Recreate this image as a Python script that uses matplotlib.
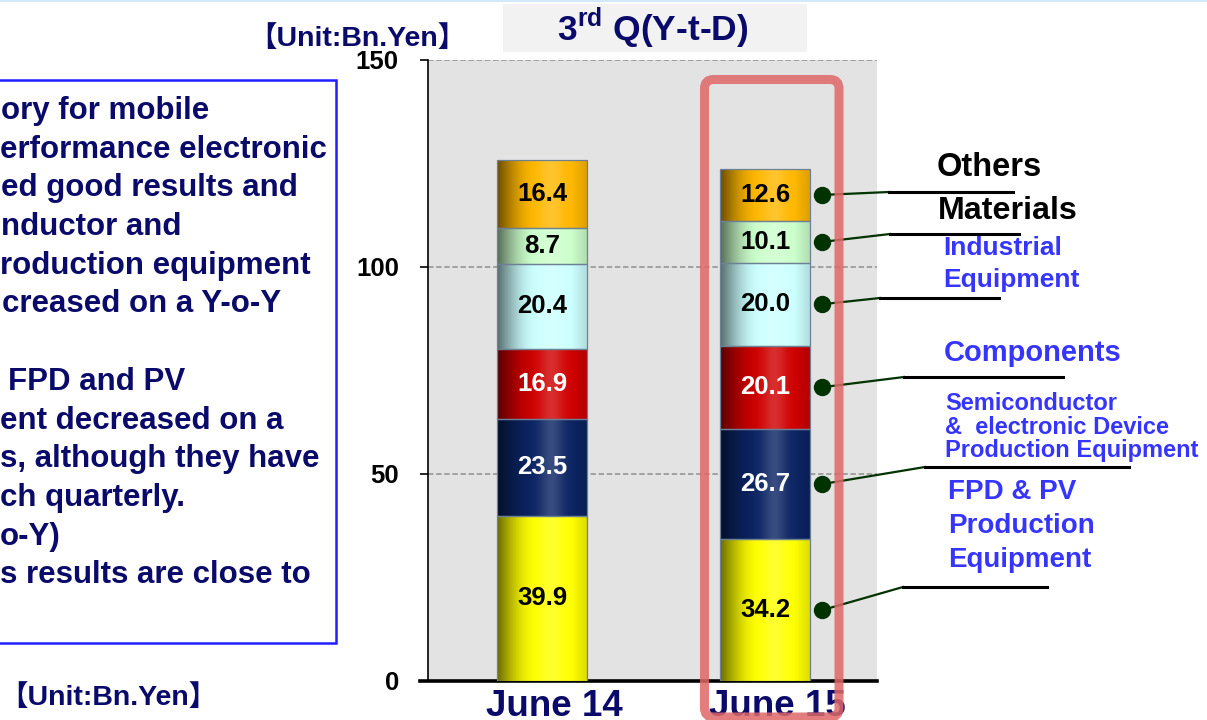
import numpy as np
import matplotlib
matplotlib.use('Agg')
import matplotlib.pyplot as plt
from matplotlib.patches import Rectangle, FancyBboxPatch
from matplotlib.lines import Line2D
from matplotlib.transforms import IdentityTransform, ScaledTranslation

plt.rcParams['font.family'] = ['Liberation Sans', 'Noto Sans CJK JP', 'DejaVu Sans']
plt.rcParams['font.weight'] = 'bold'
plt.rcParams['mathtext.fontset'] = 'custom'
plt.rcParams['mathtext.rm'] = 'Liberation Sans:bold'
plt.rcParams['mathtext.bf'] = 'Liberation Sans:bold'

# ---------------- data ----------------
categories = ['June 14', 'June 15']
fpd_pv = [39.9, 34.2]
semiconductor = [23.5, 26.7]
components = [16.9, 20.1]
industrial = [20.4, 20.0]
materials = [8.7, 10.1]
others = [16.4, 12.6]
series = [fpd_pv, semiconductor, components, industrial, materials, others]
series_colors = ['#FFFF00', '#0B2463', '#CF0000', '#CCFFFF', '#CCFFCC', '#FFB800']
value_colors = ['black', 'white', 'white', 'black', 'black', 'black']
yticks = [0, 50, 100, 150]
title_text = '3$^{\\rm rd}$ Q(Y-t-D)'
unit_text = '【Unit:Bn.Yen】'

NAVY = '#0A0A6A'
BLUE = '#3535FF'

W, H = 1207, 720
fig = plt.figure(figsize=(W / 100, H / 100), dpi=100)
fig.patch.set_facecolor('white')


def fx(px):
    return px / W


def fy(py):
    return 1 - py / H


# ---------------- left text box ----------------
fig.add_artist(Rectangle((fx(-10), fy(643)), fx(336) - fx(-10), fy(80) - fy(643),
                         transform=fig.transFigure, facecolor='white',
                         edgecolor='#1F1FFF', lw=1.8, zorder=1))
left_lines = [
    (1, 'ory for mobile'),
    (0, 'erformance electronic'),
    (1, 'ed good results and'),
    (1, 'nductor and'),
    (0, 'roduction equipment'),
    (2, 'creased on a Y-o-Y'),
    (0, ''),
    (8, 'FPD and PV'),
    (0, 'ent decreased on a'),
    (0, 's, although they have'),
    (0, 'ch quarterly.'),
    (0, 'o-Y)'),
    (0, 's results are close to'),
]
for k, (x0, txt) in enumerate(left_lines):
    if txt:
        fig.text(fx(x0), fy(111 + 38.7 * k), txt, ha='left', va='center',
                 fontsize=22.5, color=NAVY, zorder=2)

# top thin line of the slide
fig.add_artist(Line2D([0, 1], [fy(1), fy(1)], transform=fig.transFigure,
                      color='#D3E9FA', lw=1.5))

# ---------------- chart ----------------
ax = fig.add_axes([fx(428), fy(681), fx(877) - fx(428), fy(60) - fy(681)])
ax.set_facecolor('#E3E3E3')
x = np.arange(len(categories))
width = 0.405


def shade_profile(n=200):
    t = np.linspace(0, 1, n)
    f = np.where(t < 0.45, 0.42 + 0.58 * np.sin(np.pi / 2 * t / 0.45), 1.0)
    f = np.where(t > 0.82, 1 - 0.14 * (t - 0.82) / 0.18, f)
    h = 0.18 * np.exp(-((t - 0.6) / 0.13) ** 2)
    return f, h


f_prof, h_prof = shade_profile()
bottom = np.zeros(len(categories))
for vals, col, vcol in zip(series, series_colors, value_colors):
    vals = np.array(vals)
    bars = ax.bar(x, vals, width, bottom=bottom, color=col, edgecolor='none', zorder=3)
    base = np.array(matplotlib.colors.to_rgb(col))
    img = base[None, :] * f_prof[:, None]
    img = img + (1 - img) * h_prof[:, None]
    img = np.clip(img, 0, 1)[None, :, :]
    for rect in bars:
        x0, y0 = rect.get_x(), rect.get_y()
        im = ax.imshow(img, extent=[x0, x0 + rect.get_width(), y0, y0 + rect.get_height()],
                       aspect='auto', interpolation='bilinear', zorder=3.1)
        im.set_clip_path(rect)
    ax.bar(x, vals, width, bottom=bottom, fill=False, edgecolor='#6D8196', lw=0.9, zorder=3.2)
    for xi, b, v in zip(x, bottom, vals):
        ax.text(xi, b + v / 2, f'{v:.1f}', ha='center', va='center', fontsize=18.5,
                color=vcol, zorder=5)
    bottom = bottom + vals

ax.set_xlim(-0.511, 1.502)
ax.set_ylim(0, 150)
ax.set_yticks(yticks)
ax.yaxis.grid(True, linestyle=(0, (3, 1.5)), color='#9C9C9C', lw=1.3)
ax.set_axisbelow(True)
for s in ['top', 'right']:
    ax.spines[s].set_visible(False)
ax.spines['left'].set_linewidth(1.2)
ax.spines['bottom'].set_linewidth(2.6)
ax.spines['bottom'].set_bounds(-0.547, 1.502)
ax.tick_params(axis='y', direction='out', length=6, width=1.2, pad=15, labelsize=18.5,
               colors='black')
ax.set_xticks(x)
ax.set_xticklabels(categories, fontsize=26.5, color=NAVY)
ax.tick_params(axis='x', length=0, pad=6)
offset = ScaledTranslation(12 / 100, 0, fig.dpi_scale_trans)
for lbl in ax.get_xticklabels():
    lbl.set_transform(lbl.get_transform() + offset)

# ---------------- titles ----------------
fig.add_artist(Rectangle((fx(503), fy(52)), fx(807) - fx(503), fy(4) - fy(52),
                         transform=fig.transFigure, facecolor='#F2F2F2',
                         edgecolor='none', zorder=1))
fig.text(fx(653), fy(28), title_text, ha='center', va='center', fontsize=25.5, color=NAVY)
fig.text(fx(357), fy(38), unit_text, ha='center', va='center', fontsize=20.5, color=NAVY)
fig.text(fx(108), fy(697), unit_text, ha='center', va='center', fontsize=20.5, color=NAVY)

# ---------------- right legend annotations ----------------
fig.canvas.draw()
mids = []
cum = 0
for vals in series:
    mids.append(cum + vals[1] / 2)
    cum += vals[1]

elbows = [(903, 587, 1047), (925, 467, 1129), (904, 377, 1063),
          (880, 298, 999), (890, 234, 1019), (889, 192, 1013)]
for m, (ex, ey, hx) in zip(mids, elbows):
    dx, dy = ax.transData.transform((1 + 0.255, m))
    fig.add_artist(Line2D([dx, ex], [dy, H - ey], transform=IdentityTransform(),
                          color='#003300', lw=1.6, zorder=6))
    fig.add_artist(Line2D([ex, hx], [H - ey, H - ey], transform=IdentityTransform(),
                          color='black', lw=2.2, zorder=6))
    fig.add_artist(Line2D([dx], [dy], transform=IdentityTransform(), marker='o',
                          markersize=11.5, color='#003300', lw=0, zorder=7))

fig.text(fx(937), fy(168), 'Others', ha='left', va='center', fontsize=23.5, color='black')
fig.text(fx(938), fy(211), 'Materials', ha='left', va='center', fontsize=23.2, color='black')
fig.text(fx(943), fy(248), 'Industrial', ha='left', va='center', fontsize=19, color=BLUE)
fig.text(fx(943), fy(280), 'Equipment', ha='left', va='center', fontsize=19, color=BLUE)
fig.text(fx(944), fy(353), 'Components', ha='left', va='center', fontsize=21, color=BLUE)
for yy, t in zip([403, 427, 451], ['Semiconductor', '&  electronic Device',
                                   'Production Equipment']):
    fig.text(fx(945), fy(yy), t, ha='left', va='center', fontsize=17, color=BLUE)
for yy, t in zip([492, 526, 560], ['FPD & PV', 'Production', 'Equipment']):
    fig.text(fx(948), fy(yy), t, ha='left', va='center', fontsize=20, color=BLUE)

# ---------------- red highlight box ----------------
hl = FancyBboxPatch((704.5, H - 717), 839 - 704.5, 717 - 79.5,
                    boxstyle='round,pad=0,rounding_size=9', transform=IdentityTransform(),
                    facecolor='none', edgecolor='#E06868', lw=6.5, alpha=0.85, zorder=8)
fig.add_artist(hl)

fig.savefig('out.png', dpi=100)
